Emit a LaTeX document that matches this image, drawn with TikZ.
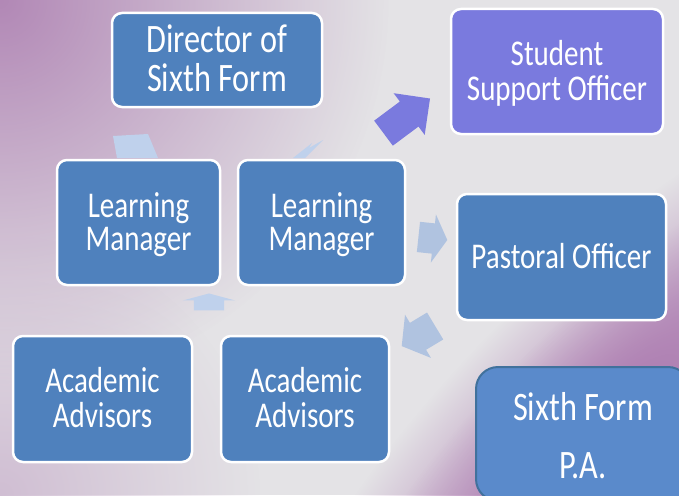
\documentclass[tikz,border=0pt]{standalone}
\usepackage{fontspec}
\setmainfont{Carlito}
\usetikzlibrary{shapes.arrows,fadings}

\definecolor{sfblue}{HTML}{4F81BD}
\definecolor{sfpurple}{HTML}{7A7ADE}
\definecolor{sfpa}{HTML}{5A8ACB}
\definecolor{sfpaline}{HTML}{41719C}
\definecolor{sffaint}{HTML}{B0C3E0}
\definecolor{sfpale}{HTML}{BFD1EC}
\definecolor{sfback}{HTML}{E4E3E6}
\definecolor{sfmauve}{HTML}{B288B6}
\definecolor{sfplum}{HTML}{AE7EB2}

\tikzfading[name=sffade, inner color=transparent!0, outer color=transparent!100]

\newcommand{\boxtext}[3][29]{\raisebox{-3.5pt}[\height][\depth]{\scalebox{1}[1.25]{\fontsize{#1}{#2}\selectfont\begin{tabular}{@{}c@{}}#3\end{tabular}}}}

\tikzset{
  sfbox/.style={draw=white, line width=2.5pt, fill=sfblue, rounded corners=10pt, text=white, inner sep=0pt},
  sfarrow/.style={single arrow, inner xsep=0pt, fill=sffaint, draw=none},
}

\begin{document}
\begin{tikzpicture}[x=1pt,y=-1pt]

\useasboundingbox (0,0) rectangle (679,495);

\fill [sfback] (0,0) rectangle (679,495);
\begin{scope}
\clip (0,0) rectangle (679,495);
\fill [sfmauve, path fading=sffade] (0,0) circle (390);
\fill [sfmauve!40!sfback, path fading=sffade] (0,495) circle (260);
\begin{scope}[transform canvas={rotate around={45:(605,430)}}]
\fill [sfplum, path fading=sffade] (605,430) ellipse (460 and 150);
\fill [sfplum, path fading=sffade] (605,430) ellipse (380 and 110);
\end{scope}
\end{scope}


\fill [sfpale] (117,158) -- (113,136) -- (148,134) -- (158,158) -- cycle;
\fill [sfpale] (293,158) -- (312,143) -- (309,148) -- (323,140) -- (305,158) -- cycle;

\node [sfarrow, fill=sfpurple, rotate=36.7, inner ysep=15.4, minimum height=58, single arrow head extend=10.4] (sf-to-support) at (400.5,120.5){};

\node [sfarrow, rotate=-6, inner ysep=15, minimum height=29, single arrow head extend=9, single arrow tip angle=120] (sf-to-pastoral) at (428.5,238){};

\node [sfarrow, rotate=211, inner ysep=15.5, minimum height=39, single arrow head extend=9.5, single arrow tip angle=106] (sf-to-advisors) at (423.5,333){};

\node [sfarrow, fill=sfpale, rotate=90, inner ysep=15, minimum height=17, single arrow head extend=11, single arrow tip angle=150] (sf-to-manager) at (209,304){};



\node [sfbox, minimum width=210, minimum height=94] (sf-director) at (217,60){\boxtext[32.3]{28}{Director of\\Sixth Form}};

\node [sfbox, fill=sfpurple, minimum width=212, minimum height=125] (sf-support) at (557,71.5){\boxtext{26}{Student\\Support Officer}};



\node [sfbox, minimum width=163, minimum height=125] (sf-lm-1) at (138.5,222.5){\boxtext{26}{Learning\\Manager}};

\node [sfbox, minimum width=167, minimum height=125] (sf-lm-2) at (321.5,222.5){\boxtext{26}{Learning\\Manager}};

\node [sfbox, minimum width=209, minimum height=126] (sf-pastoral) at (561.5,257){\boxtext{26}{Pastoral Officer}};



\node [sfbox, minimum width=179, minimum height=126] (sf-adv-1) at (102.5,399){\boxtext{26}{Academic\\Advisors}};

\node [sfbox, minimum width=168, minimum height=126] (sf-adv-2) at (305,399){\boxtext{26}{Academic\\Advisors}};

\node [sfbox, draw=sfpaline, line width=2pt, fill=sfpa, rounded corners=22pt, minimum width=214, minimum height=134] (sf-pa) at (583,434){\boxtext[32.3]{46.4}{Sixth Form\\P.A.}};


%%%%%%%%%%%%%%%%%%%%%%%%%%%%%%%%%%%%%%%%%%%%%%%%%%%%%%%%%%%%%%%%%

\end{tikzpicture}
\end{document}
